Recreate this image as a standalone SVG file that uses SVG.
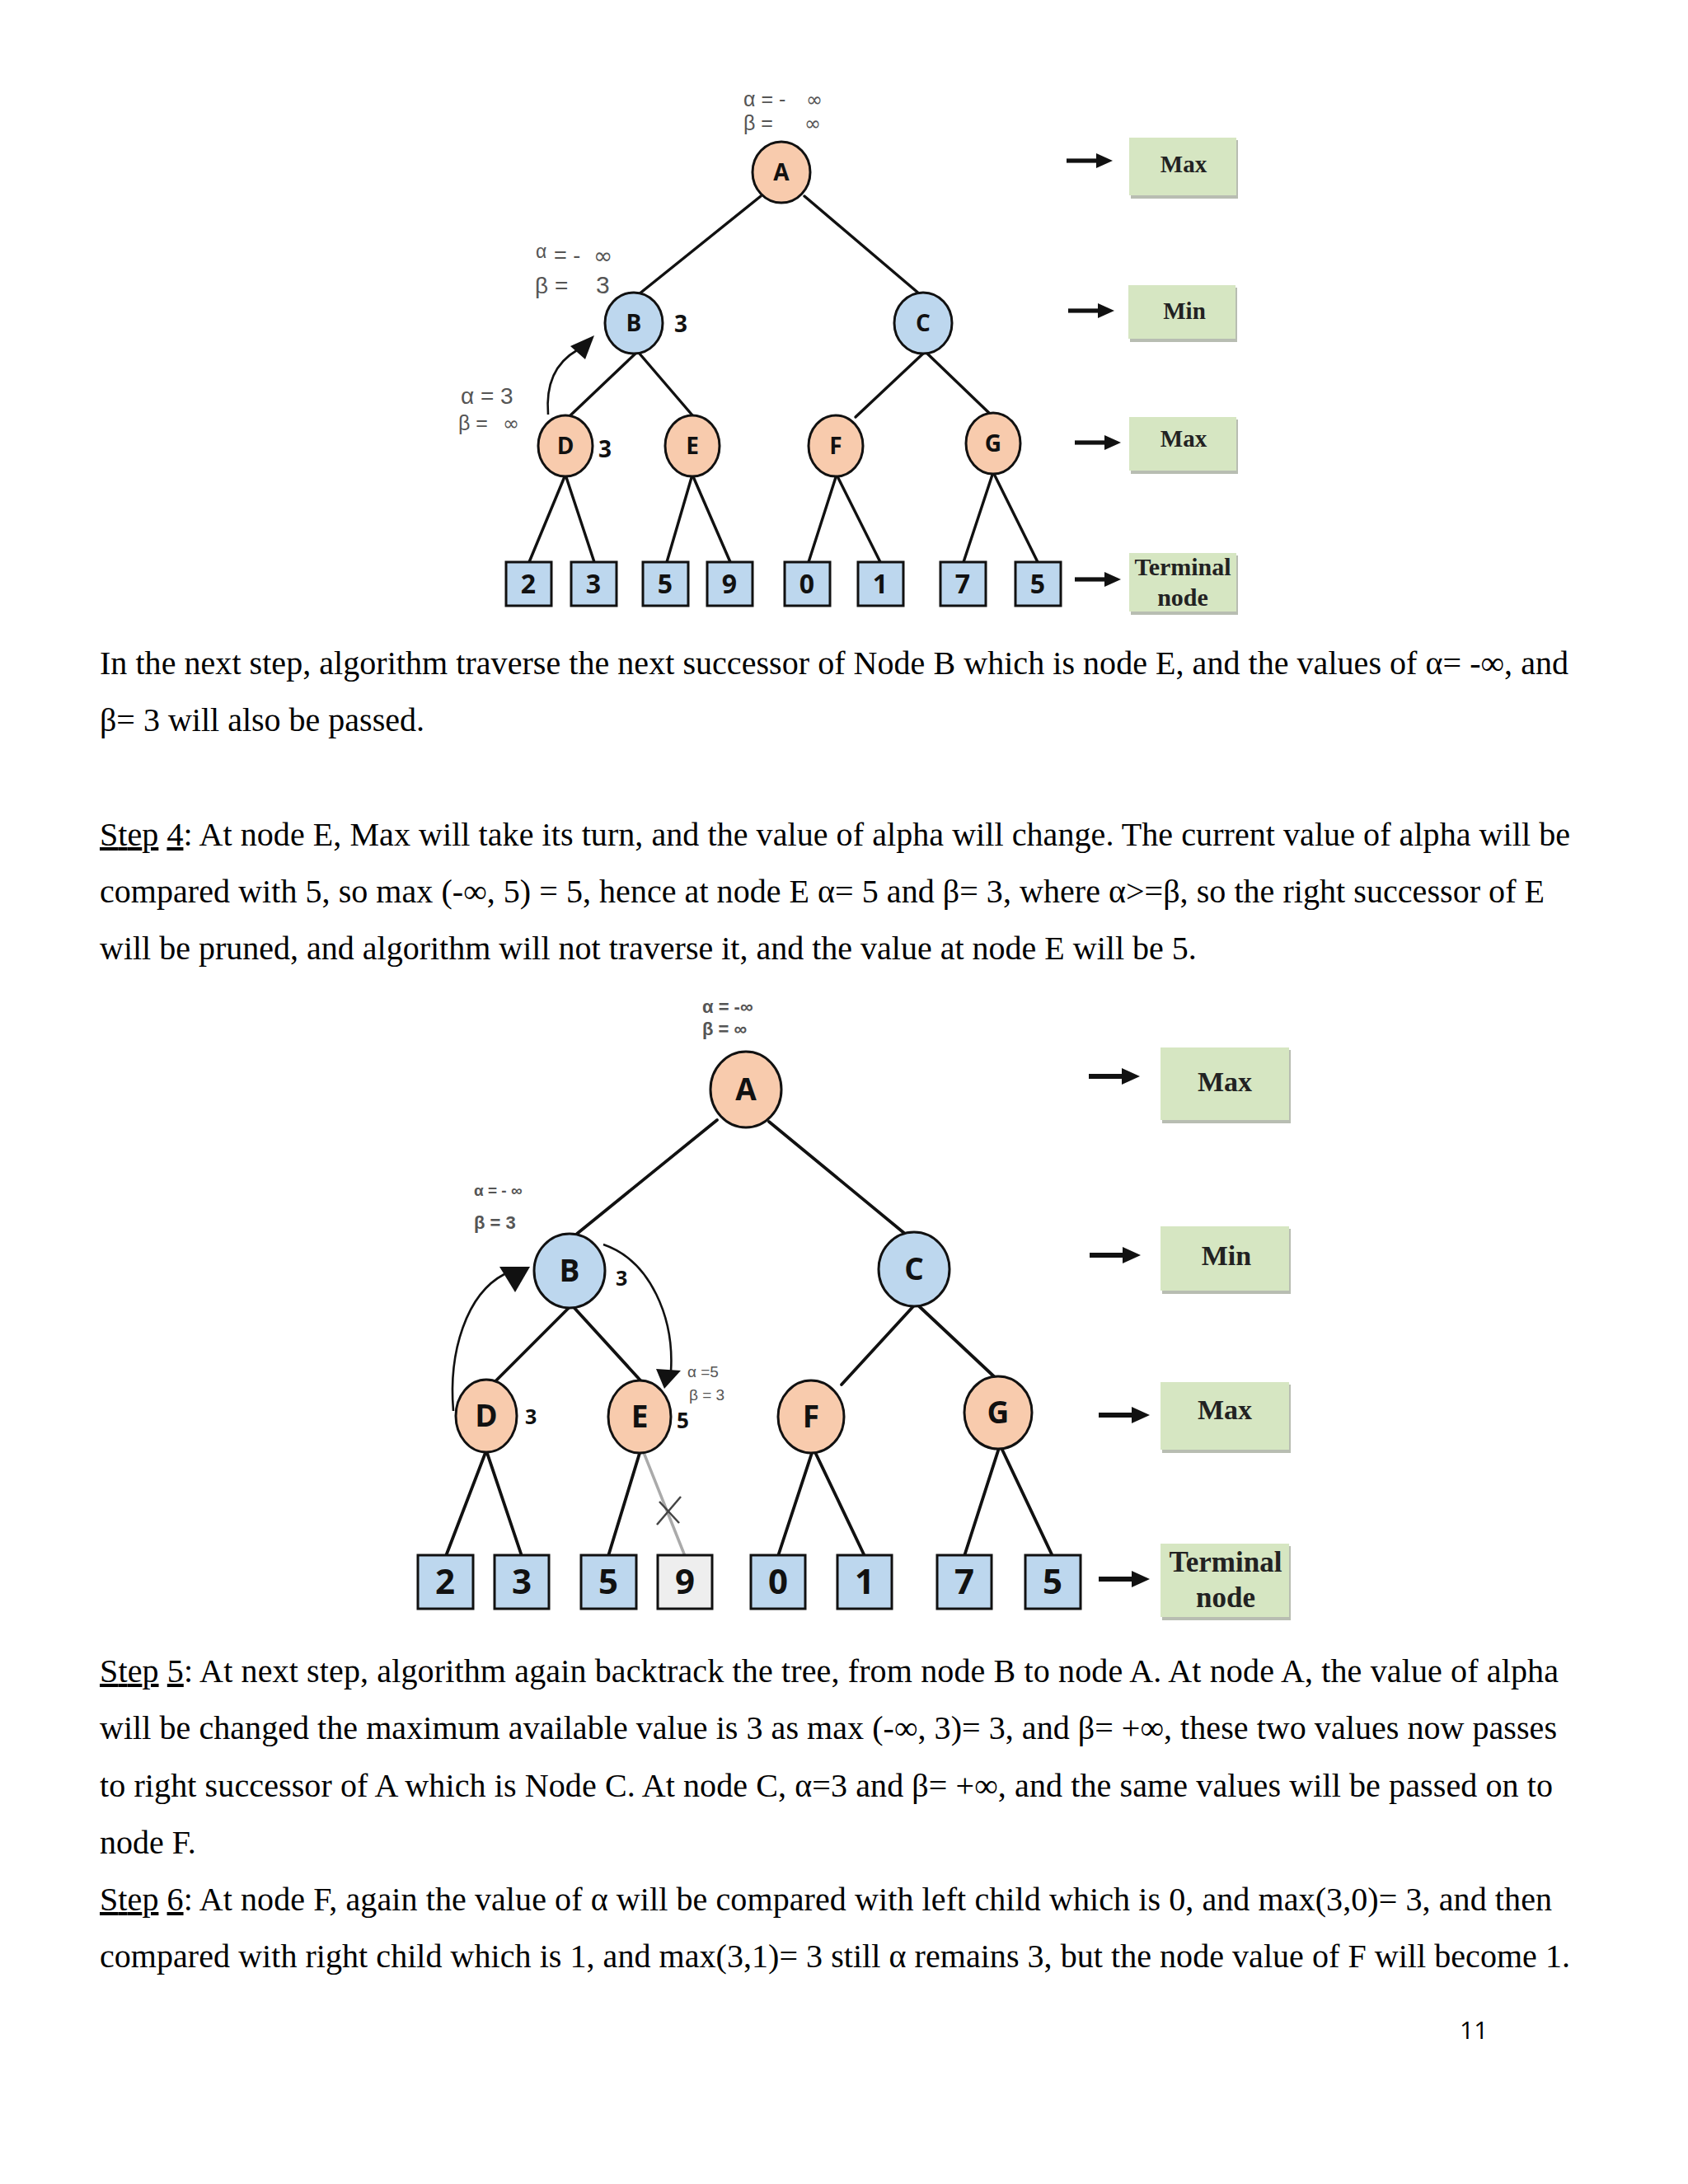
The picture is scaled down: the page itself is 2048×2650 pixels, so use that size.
<svg xmlns="http://www.w3.org/2000/svg" width="2048" height="2650" viewBox="0 0 2048 2650">
<style>
.bg{fill:#ffffff}
.edge{stroke:#111;stroke-width:3.4;fill:none;stroke-linecap:round}
.edge2{stroke:#111;stroke-width:3.8;fill:none;stroke-linecap:round}
.pruned{stroke:#aaaaaa;stroke-width:3.5;fill:none}
.curve{stroke:#111;stroke-width:2.6;fill:none}
.head{fill:#111}
.max{fill:#f8cbad;stroke:#111;stroke-width:3}
.min{fill:#bdd7ee;stroke:#111;stroke-width:3}
.leaf{fill:#bdd7ee;stroke:#111;stroke-width:3}
.leafp{fill:#eeeeee;stroke:#111;stroke-width:3}
.nl{font-family:"Open Sans","Liberation Sans",sans-serif;font-weight:700;fill:#111;text-anchor:middle}
.ab{font-family:"Liberation Sans","DejaVu Sans",sans-serif;fill:#555}
.inf{font-family:"DejaVu Sans","Liberation Sans",sans-serif;fill:#555}
.val{font-family:"Open Sans","Liberation Sans",sans-serif;font-weight:700;fill:#111}
.gbox{fill:#d6e6c2}
.gsh{fill:#b8bdb2}
.gt{font-family:"Liberation Serif","Times New Roman",serif;font-weight:700;fill:#222;text-anchor:middle}
.body{font-family:"Liberation Serif","Times New Roman",serif;font-size:40px;fill:#000}
.pg{font-family:"Open Sans","Liberation Sans",sans-serif;font-size:30px;fill:#000}
</style>
<defs>
<g id="arrowR">
<rect x="0" y="-2.6" width="40" height="5.2" fill="#111"/>
<polygon points="36,-9 56,0 36,9" fill="#111"/>
</g>
<g id="arrowR2">
<rect x="0" y="-3" width="44" height="6" fill="#111"/>
<polygon points="40,-10 62,0 40,10" fill="#111"/>
</g>
</defs>
<rect class="bg" x="0" y="0" width="2048" height="2650"/>

<!-- ===== Diagram 1 ===== -->
<g id="d1-connectors">
<line class="edge" x1="923" y1="238" x2="775" y2="357"/>
<line class="edge" x1="976" y1="238" x2="1116" y2="357"/>
<line class="edge" x1="772" y1="428" x2="691" y2="505"/>
<line class="edge" x1="775" y1="428" x2="841" y2="505"/>
<line class="edge" x1="1121" y1="428" x2="1038" y2="506"/>
<line class="edge" x1="1124" y1="428" x2="1201" y2="502"/>
<line class="edge" x1="686" y1="576" x2="642" y2="682"/>
<line class="edge" x1="686" y1="576" x2="721" y2="682"/>
<line class="edge" x1="840" y1="576" x2="809" y2="682"/>
<line class="edge" x1="840" y1="576" x2="886" y2="682"/>
<line class="edge" x1="1015" y1="576" x2="981" y2="682"/>
<line class="edge" x1="1015" y1="576" x2="1068" y2="682"/>
<line class="edge" x1="1205" y1="573" x2="1169" y2="682"/>
<line class="edge" x1="1205" y1="573" x2="1259" y2="682"/>
<path class="curve" d="M 665 503 C 662 466, 674 440, 700 425"/>
<polygon class="head" points="721,407 692,420 710,436"/>
</g>
<g id="d1-A"><ellipse class="max" cx="948" cy="209" rx="35" ry="37"/><text class="nl" x="948" y="219" font-size="28">A</text></g>
<g id="d1-B"><ellipse class="min" cx="769" cy="392" rx="35" ry="37"/><text class="nl" x="769" y="402" font-size="28">B</text></g>
<g id="d1-C"><ellipse class="min" cx="1120" cy="392" rx="35" ry="37"/><text class="nl" x="1120" y="402" font-size="28">C</text></g>
<g id="d1-D"><ellipse class="max" cx="686" cy="541" rx="33" ry="37"/><text class="nl" x="686" y="551" font-size="28">D</text></g>
<g id="d1-E"><ellipse class="max" cx="840" cy="541" rx="33" ry="37"/><text class="nl" x="840" y="551" font-size="28">E</text></g>
<g id="d1-F"><ellipse class="max" cx="1014" cy="541" rx="33" ry="37"/><text class="nl" x="1014" y="551" font-size="28">F</text></g>
<g id="d1-G"><ellipse class="max" cx="1205" cy="538" rx="33" ry="37"/><text class="nl" x="1205" y="548" font-size="28">G</text></g>
<g id="d1-leaves">
<g id="d1-L1"><rect class="leaf" x="614" y="682" width="55" height="53"/><text class="nl" x="641" y="720" font-size="32">2</text></g>
<g id="d1-L2"><rect class="leaf" x="693" y="682" width="55" height="53"/><text class="nl" x="720" y="720" font-size="32">3</text></g>
<g id="d1-L3"><rect class="leaf" x="780" y="682" width="55" height="53"/><text class="nl" x="807" y="720" font-size="32">5</text></g>
<g id="d1-L4"><rect class="leaf" x="858" y="682" width="55" height="53"/><text class="nl" x="885" y="720" font-size="32">9</text></g>
<g id="d1-L5"><rect class="leaf" x="952" y="682" width="55" height="53"/><text class="nl" x="979" y="720" font-size="32">0</text></g>
<g id="d1-L6"><rect class="leaf" x="1041" y="682" width="55" height="53"/><text class="nl" x="1068" y="720" font-size="32">1</text></g>
<g id="d1-L7"><rect class="leaf" x="1141" y="682" width="55" height="53"/><text class="nl" x="1168" y="720" font-size="32">7</text></g>
<g id="d1-L8"><rect class="leaf" x="1232" y="682" width="55" height="53"/><text class="nl" x="1259" y="720" font-size="32">5</text></g>
</g>
<g id="d1-labels">
<text class="ab" x="902" y="129" font-size="25">α = -</text><text class="inf" x="978" y="129" font-size="24">∞</text>
<text class="ab" x="902" y="158" font-size="25">β =</text><text class="inf" x="976" y="158" font-size="24">∞</text>
<text class="ab" x="650" y="313" font-size="23">α</text><text class="ab" x="672" y="319" font-size="27">= -</text><text class="inf" x="720" y="320" font-size="28">∞</text>
<text class="ab" x="649" y="356" font-size="28">β =</text><text class="ab" x="723" y="356" font-size="30">3</text>
<text class="ab" x="559" y="490" font-size="28">α =  3</text>
<text class="ab" x="556" y="522" font-size="25">β  =</text><text class="inf" x="610" y="522" font-size="24">∞</text>
<text class="val" x="818" y="403" font-size="28">3</text>
<text class="val" x="726" y="555" font-size="28">3</text>
</g>
<g id="d1-legend">
<use href="#arrowR" x="1294" y="195"/>
<use href="#arrowR" x="1296" y="377"/>
<use href="#arrowR" x="1304" y="537"/>
<use href="#arrowR" x="1304" y="703"/>
<g id="d1-max1"><rect class="gsh" x="1372" y="170" width="130" height="71"/><rect class="gbox" x="1370" y="167" width="130" height="70"/><text class="gt" x="1436" y="209" font-size="29">Max</text></g>
<g id="d1-min"><rect class="gsh" x="1371" y="349" width="130" height="66"/><rect class="gbox" x="1369" y="346" width="130" height="65"/><text class="gt" x="1437" y="387" font-size="29">Min</text></g>
<g id="d1-max2"><rect class="gsh" x="1372" y="509" width="130" height="66"/><rect class="gbox" x="1370" y="506" width="130" height="65"/><text class="gt" x="1436" y="542" font-size="29">Max</text></g>
<g id="d1-term"><rect class="gsh" x="1372" y="674" width="130" height="72"/><rect class="gbox" x="1370" y="671" width="130" height="71"/><text class="gt" x="1435" y="698" font-size="30">Terminal</text><text class="gt" x="1435" y="735" font-size="30">node</text></g>
</g>

<!-- ===== Text block 1 ===== -->
<g id="text1" class="body">
<text x="121" y="818" textLength="1782" lengthAdjust="spacing">In the next step, algorithm traverse the next successor of Node B which is node E, and the values of α= -∞, and</text>
<text x="121" y="887">β= 3 will also be passed.</text>
<text x="121" y="1026" textLength="1784" lengthAdjust="spacing"><tspan text-decoration="underline">Step</tspan> <tspan text-decoration="underline">4</tspan>: At node E, Max will take its turn, and the value of alpha will change. The current value of alpha will be</text>
<text x="121" y="1095" textLength="1753" lengthAdjust="spacing">compared with 5, so max (-∞, 5) = 5, hence at node E α= 5 and β= 3, where α&gt;=β, so the right successor of E</text>
<text x="121" y="1164">will be pruned, and algorithm will not traverse it, and the value at node E will be 5.</text>
</g>

<!-- ===== Diagram 2 ===== -->
<g id="d2-connectors">
<line class="edge2" x1="870" y1="1359" x2="700" y2="1497"/>
<line class="edge2" x1="933" y1="1361" x2="1098" y2="1497"/>
<line class="edge2" x1="692" y1="1585" x2="601" y2="1676"/>
<line class="edge2" x1="695" y1="1585" x2="778" y2="1676"/>
<line class="edge2" x1="1110" y1="1583" x2="1021" y2="1680"/>
<line class="edge2" x1="1113" y1="1583" x2="1209" y2="1673"/>
<line class="edge2" x1="590" y1="1760" x2="541" y2="1888"/>
<line class="edge2" x1="590" y1="1760" x2="633" y2="1888"/>
<line class="edge2" x1="777" y1="1760" x2="738" y2="1888"/>
<line class="pruned" x1="780" y1="1760" x2="831" y2="1888"/>
<line class="edge2" x1="986" y1="1760" x2="944" y2="1888"/>
<line class="edge2" x1="988" y1="1760" x2="1049" y2="1888"/>
<line class="edge2" x1="1212" y1="1757" x2="1170" y2="1888"/>
<line class="edge2" x1="1215" y1="1757" x2="1277" y2="1888"/>
<line stroke="#444" stroke-width="2.5" x1="797" y1="1850" x2="826" y2="1816"/>
<line stroke="#444" stroke-width="2.5" x1="800" y1="1822" x2="824" y2="1848"/>
<path class="curve" d="M 550 1712 C 544 1640, 566 1570, 612 1546"/>
<polygon class="head" points="606,1537 643,1537 625,1568"/>
<path class="curve" d="M 732 1510 C 790 1530, 818 1600, 814 1664"/>
<polygon class="head" points="796,1661 826,1663 806,1685"/>
</g>
<g id="d2-A"><ellipse class="max" cx="905" cy="1322" rx="43" ry="46"/><text class="nl" x="905" y="1335" font-size="37">A</text></g>
<g id="d2-B"><ellipse class="min" cx="691" cy="1542" rx="43" ry="45"/><text class="nl" x="691" y="1555" font-size="37">B</text></g>
<g id="d2-C"><ellipse class="min" cx="1109" cy="1540" rx="43" ry="45"/><text class="nl" x="1109" y="1553" font-size="37">C</text></g>
<g id="d2-D"><ellipse class="max" cx="590" cy="1718" rx="37" ry="44"/><text class="nl" x="590" y="1731" font-size="37">D</text></g>
<g id="d2-E"><ellipse class="max" cx="776" cy="1719" rx="38" ry="44"/><text class="nl" x="776" y="1732" font-size="37">E</text></g>
<g id="d2-F"><ellipse class="max" cx="984" cy="1719" rx="40" ry="44"/><text class="nl" x="984" y="1732" font-size="37">F</text></g>
<g id="d2-G"><ellipse class="max" cx="1211" cy="1714" rx="41" ry="44"/><text class="nl" x="1211" y="1727" font-size="37">G</text></g>
<g id="d2-leaves">
<g id="d2-L1"><rect class="leaf" x="507" y="1887" width="67" height="65"/><text class="nl" x="540" y="1934" font-size="42">2</text></g>
<g id="d2-L2"><rect class="leaf" x="600" y="1887" width="66" height="65"/><text class="nl" x="633" y="1934" font-size="42">3</text></g>
<g id="d2-L3"><rect class="leaf" x="705" y="1887" width="67" height="65"/><text class="nl" x="738" y="1934" font-size="42">5</text></g>
<g id="d2-L4"><rect class="leafp" x="798" y="1887" width="66" height="65"/><text class="nl" x="831" y="1934" font-size="42">9</text></g>
<g id="d2-L5"><rect class="leaf" x="911" y="1887" width="66" height="65"/><text class="nl" x="944" y="1934" font-size="42">0</text></g>
<g id="d2-L6"><rect class="leaf" x="1016" y="1887" width="66" height="65"/><text class="nl" x="1049" y="1934" font-size="42">1</text></g>
<g id="d2-L7"><rect class="leaf" x="1137" y="1887" width="66" height="65"/><text class="nl" x="1170" y="1934" font-size="42">7</text></g>
<g id="d2-L8"><rect class="leaf" x="1244" y="1887" width="67" height="65"/><text class="nl" x="1277" y="1934" font-size="42">5</text></g>
</g>
<g id="d2-labels">
<text class="ab" x="852" y="1229" font-size="22" font-weight="700">α = -∞</text>
<text class="ab" x="852" y="1256" font-size="22" font-weight="700">β = ∞</text>
<text class="ab" x="575" y="1451" font-size="19" font-weight="700">α = - ∞</text>
<text class="ab" x="575" y="1491" font-size="22" font-weight="700">β = 3</text>
<text class="ab" x="834" y="1671" font-size="19">α =5</text>
<text class="ab" x="836" y="1699" font-size="19">β = 3</text>
<text class="val" x="747" y="1560" font-size="25">3</text>
<text class="val" x="637" y="1728" font-size="25">3</text>
<text class="val" x="821" y="1733" font-size="26">5</text>
</g>
<g id="d2-legend">
<use href="#arrowR2" x="1321" y="1306"/>
<use href="#arrowR2" x="1322" y="1523"/>
<use href="#arrowR2" x="1333" y="1717"/>
<use href="#arrowR2" x="1333" y="1916"/>
<g id="d2-max1"><rect class="gsh" x="1410" y="1274" width="156" height="89"/><rect class="gbox" x="1408" y="1271" width="156" height="88"/><text class="gt" x="1486" y="1324" font-size="34">Max</text></g>
<g id="d2-min"><rect class="gsh" x="1410" y="1491" width="156" height="79"/><rect class="gbox" x="1408" y="1488" width="156" height="78"/><text class="gt" x="1488" y="1535" font-size="34">Min</text></g>
<g id="d2-max2"><rect class="gsh" x="1410" y="1680" width="156" height="83"/><rect class="gbox" x="1408" y="1677" width="156" height="82"/><text class="gt" x="1486" y="1722" font-size="34">Max</text></g>
<g id="d2-term"><rect class="gsh" x="1410" y="1876" width="156" height="90"/><rect class="gbox" x="1408" y="1873" width="156" height="89"/><text class="gt" x="1487" y="1907" font-size="35">Terminal</text><text class="gt" x="1487" y="1950" font-size="35">node</text></g>
</g>

<!-- ===== Text block 2 ===== -->
<g id="text2" class="body">
<text x="121" y="2041" textLength="1770" lengthAdjust="spacing"><tspan text-decoration="underline">Step</tspan> <tspan text-decoration="underline">5</tspan>: At next step, algorithm again backtrack the tree, from node B to node A. At node A, the value of alpha</text>
<text x="121" y="2110" textLength="1768" lengthAdjust="spacing">will be changed the maximum available value is 3 as max (-∞, 3)= 3, and β= +∞, these two values now passes</text>
<text x="121" y="2180" textLength="1763" lengthAdjust="spacing">to right successor of A which is Node C. At node C, α=3 and β= +∞, and the same values will be passed on to</text>
<text x="121" y="2249">node F.</text>
<text x="121" y="2318" textLength="1762" lengthAdjust="spacing"><tspan text-decoration="underline">Step</tspan> <tspan text-decoration="underline">6</tspan>: At node F, again the value of α will be compared with left child which is 0, and max(3,0)= 3, and then</text>
<text x="121" y="2387" textLength="1784" lengthAdjust="spacing">compared with right child which is 1, and max(3,1)= 3 still α remains 3, but the node value of F will become 1.</text>
</g>
<text id="page-number" class="pg" x="1771" y="2474">11</text>
</svg>
